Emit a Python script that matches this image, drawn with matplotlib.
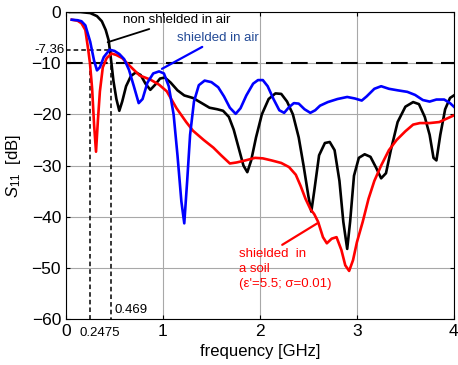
import matplotlib
matplotlib.use('Agg')
from matplotlib import pyplot as plt
import numpy as np

plt.rcParams['font.family'] = ['Liberation Sans', 'DejaVu Sans']
plt.rcParams['mathtext.fontset'] = 'custom'
plt.rcParams['mathtext.it'] = 'Liberation Sans:italic'
plt.rcParams['mathtext.rm'] = 'Liberation Sans'

# non shielded antenna in air
f_black = [0.04, 0.15, 0.25, 0.32, 0.37, 0.41, 0.44, 0.469, 0.49, 0.52, 0.55, 0.58, 0.62,
           0.67, 0.72, 0.77, 0.82, 0.87, 0.92, 0.97, 1.02, 1.08, 1.15, 1.22, 1.31, 1.40,
           1.48, 1.56, 1.62, 1.68, 1.73, 1.78, 1.83, 1.87, 1.91, 1.96, 2.02, 2.09, 2.16,
           2.22, 2.28, 2.34, 2.40, 2.45, 2.50, 2.53, 2.56, 2.61, 2.67, 2.72, 2.77, 2.82,
           2.86, 2.90, 2.93, 2.97, 3.02, 3.08, 3.14, 3.20, 3.25, 3.30, 3.35, 3.42, 3.50,
           3.58, 3.64, 3.70, 3.75, 3.79, 3.82, 3.86, 3.91, 3.96, 4.00]
s_black = [0.0, 0.0, -0.2, -0.8, -1.8, -3.5, -5.5, -10.0, -13.5, -17.0, -19.3, -17.5, -14.5,
           -12.5, -11.8, -12.3, -14.0, -15.2, -14.2, -13.0, -12.8, -13.8, -15.3, -16.3, -16.8, -17.8,
           -18.7, -19.0, -19.3, -20.5, -23.0, -26.5, -30.0, -31.3, -29.0, -24.5, -20.0, -17.0, -15.9,
           -16.0, -17.5, -20.0, -24.5, -30.0, -36.0, -39.0, -35.0, -28.0, -25.6, -25.4, -27.0, -33.0,
           -41.0, -46.3, -41.0, -32.0, -28.5, -27.8, -28.3, -30.5, -32.5, -31.5, -27.0, -21.5, -18.5,
           -17.6, -18.0, -20.5, -24.0, -28.5, -29.0, -24.0, -19.0, -16.8, -16.3]

# shielded antenna in air
f_blue = [0.06, 0.12, 0.16, 0.20, 0.25, 0.29, 0.32, 0.35, 0.39, 0.45, 0.50, 0.55, 0.60,
          0.65, 0.70, 0.75, 0.79, 0.84, 0.90, 0.96, 1.01, 1.06, 1.11, 1.15, 1.19, 1.22,
          1.25, 1.28, 1.32, 1.37, 1.43, 1.50, 1.57, 1.63, 1.69, 1.75, 1.80, 1.86, 1.93,
          1.98, 2.03, 2.08, 2.14, 2.20, 2.25, 2.30, 2.35, 2.40, 2.46, 2.52, 2.57, 2.62,
          2.70, 2.80, 2.90, 2.98, 3.05, 3.10, 3.18, 3.25, 3.33, 3.42, 3.52, 3.60, 3.68,
          3.75, 3.82, 3.90, 3.96, 4.00]
s_blue = [-1.5, -1.6, -1.8, -2.6, -5.8, -9.5, -11.4, -10.8, -8.8, -7.36, -7.6, -8.2, -9.2,
          -11.3, -14.5, -17.8, -17.0, -13.8, -12.0, -11.6, -12.0, -14.5, -20.0, -28.0, -37.0, -41.3,
          -33.0, -24.0, -17.5, -14.3, -13.4, -13.7, -14.7, -16.5, -18.7, -19.9, -18.8, -16.3, -14.0,
          -13.3, -13.3, -14.5, -17.0, -19.2, -19.7, -18.6, -17.8, -17.9, -19.0, -19.7, -19.2, -18.3,
          -17.6, -17.0, -16.6, -16.9, -17.3, -16.5, -15.0, -14.5, -15.0, -15.3, -15.6, -16.2, -17.2,
          -17.5, -17.1, -17.1, -17.8, -18.5]

# shielded antenna in soil
f_red = [0.06, 0.12, 0.16, 0.20, 0.23, 0.2475, 0.27, 0.29, 0.31, 0.33, 0.35, 0.38, 0.42,
         0.47, 0.52, 0.58, 0.63, 0.70, 0.76, 0.87, 0.96, 1.04, 1.14, 1.24, 1.31, 1.42,
         1.52, 1.60, 1.69, 1.76, 1.85, 1.95, 2.03, 2.12, 2.22, 2.30, 2.37, 2.42, 2.47,
         2.52, 2.56, 2.60, 2.65, 2.69, 2.74, 2.79, 2.84, 2.88, 2.92, 2.96, 3.00, 3.06,
         3.12, 3.18, 3.25, 3.33, 3.41, 3.50, 3.58, 3.65, 3.75, 3.85, 3.93, 4.00]
s_red = [-1.5, -1.7, -2.2, -3.5, -7.4, -10.0, -15.0, -22.0, -27.3, -21.0, -15.5, -10.8, -9.0,
         -8.1, -8.4, -9.0, -10.0, -11.3, -12.4, -13.2, -14.2, -15.5, -18.8, -21.5, -23.2, -25.0,
         -26.5, -28.0, -29.6, -29.4, -29.0, -28.5, -28.6, -29.0, -29.5, -30.3, -31.8, -34.0, -36.5,
         -38.5, -39.5, -41.0, -44.0, -45.2, -44.3, -44.0, -46.5, -49.5, -50.6, -48.5, -45.0, -41.0,
         -36.5, -33.0, -30.0, -27.0, -25.0, -23.3, -22.0, -21.7, -21.7, -21.5, -20.8, -20.2]

f_low, f_high = 0.2475, 0.469
s_ref, s_peak = -10, -7.36

fig = plt.figure(figsize=(4.58, 3.65), dpi=100)
ax = fig.add_axes([0.144, 0.126, 0.847, 0.841])

ax.grid(True, color='#a8a8a8', linewidth=0.8)
ax.set_axisbelow(True)

# reference lines
ax.plot([0, 4], [s_ref, s_ref], color='k', linewidth=1.5, dashes=(8, 4))
ax.plot([0, f_high], [s_peak, s_peak], color='k', linewidth=1.1, dashes=(3, 2))
ax.plot([f_low, f_low], [s_ref, -60], color='k', linewidth=1.1, dashes=(3, 2))
ax.plot([f_high, f_high], [s_peak, -60], color='k', linewidth=1.1, dashes=(3, 2))

ax.plot(f_black, s_black, color='k', linewidth=1.9)
ax.plot(f_red, s_red, color='red', linewidth=1.9)
ax.plot(f_blue, s_blue, color='blue', linewidth=1.9)

ax.set_xlim(0, 4)
ax.set_ylim(-60, 0)
ax.set_xticks([0, 1, 2, 3, 4])
ax.set_yticks([0, -10, -20, -30, -40, -50, -60])
ax.tick_params(direction='in', top=True, right=True, labelsize=12.5, length=3)
ax.set_xlabel('frequency [GHz]', fontsize=12)
ax.set_ylabel('$S_{11}$  [dB]', fontsize=12, labelpad=6)

# extra labels for the marked points
ax.text(-0.004, s_peak, '-7.36', transform=ax.get_yaxis_transform(),
        ha='right', va='center', fontsize=9.5)
ax.text(0.35, -61.5, '0.2475', ha='center', va='top', fontsize=9.5)
ax.text(f_high + 0.03, -59.5, '0.469', ha='left', va='bottom', fontsize=9.5)

# curve labels
ax.annotate('non shielded in air', xy=(0.43, -5.9), xytext=(0.59, -1.6),
            fontsize=9.5, color='k', ha='left', va='center',
            arrowprops=dict(arrowstyle='-', color='k', linewidth=1.3, shrinkA=0, shrinkB=0))
ax.annotate('shielded in air', xy=(0.99, -11.1), xytext=(1.15, -5.1),
            fontsize=9.5, color='#234a96', ha='left', va='center',
            arrowprops=dict(arrowstyle='-', color='blue', linewidth=1.6, shrinkA=0, shrinkB=0))
ax.annotate('', xy=(2.6, -41.2), xytext=(2.23, -45.5),
            arrowprops=dict(arrowstyle='-', color='red', linewidth=1.6, shrinkA=0, shrinkB=0))
ax.text(1.78, -46.2, "shielded  in\na soil\n(\u03b5'=5.5; \u03c3=0.01)",
        fontsize=9.5, color='red', ha='left', va='top', linespacing=1.3)

fig.savefig('out.png', dpi=100)
